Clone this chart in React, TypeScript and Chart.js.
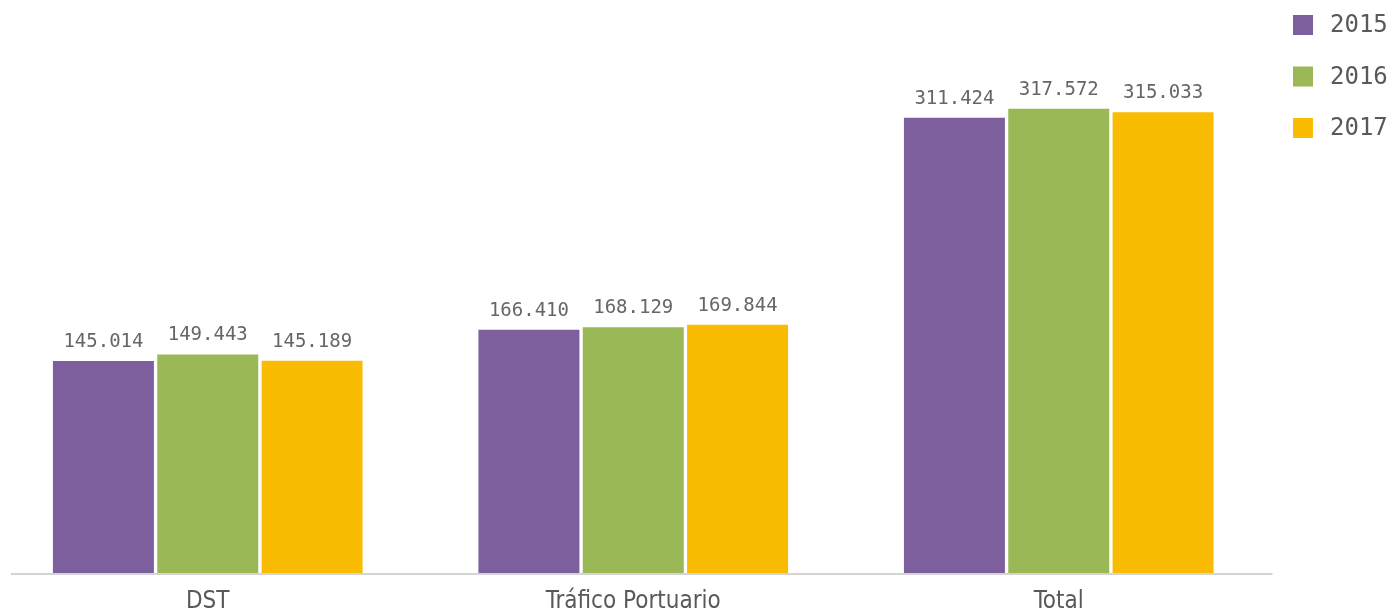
import React, { useEffect, useRef } from "react";
import { Chart, registerables } from "chart.js";

Chart.register(...registerables);

const categories = ["DST", "Tráfico Portuario", "Total"];
const seriesNames = ["2015", "2016", "2017"];
const values2015 = [145.014, 166.41, 311.424];
const values2016 = [149.443, 168.129, 317.572];
const values2017 = [145.189, 169.844, 315.033];
const colors = ["#7E5F9E", "#9AB855", "#F9BC02"];

const W = 1398;
const H = 632;

export default function App() {
  const ref = useRef<HTMLCanvasElement | null>(null);

  useEffect(() => {
    const canvas = ref.current;
    if (!canvas) return;

    const extras = {
      id: "extras",
      afterDraw(chart: any) {
        const ctx = chart.ctx;
        const area = chart.chartArea;
        const yScale = chart.scales.y;
        const y0 = yScale.getPixelForValue(0);
        ctx.save();
        // axis line
        ctx.strokeStyle = "#d4d4d4";
        ctx.lineWidth = 2;
        ctx.beginPath();
        ctx.moveTo(16, y0 + 1);
        ctx.lineTo(area.right + 1, y0 + 1);
        ctx.stroke();
        // value labels
        ctx.fillStyle = "#666666";
        ctx.font = "19px 'DejaVu Sans Mono', monospace";
        ctx.textAlign = "center";
        ctx.textBaseline = "alphabetic";
        chart.data.datasets.forEach((ds: any, di: number) => {
          const meta = chart.getDatasetMeta(di);
          meta.data.forEach((bar: any, i: number) => {
            const v = ds.data[i] as number;
            ctx.fillText(v.toFixed(3), bar.x, bar.y - 14);
          });
        });
        // legend
        ctx.font = "24px 'DejaVu Sans Mono', monospace";
        ctx.textAlign = "left";
        ctx.textBaseline = "middle";
        seriesNames.forEach((name, i) => {
          const top = 15 + i * 51.5;
          ctx.fillStyle = colors[i];
          ctx.fillRect(1298, top, 20, 20);
          ctx.fillStyle = "#595959";
          ctx.fillText(name, 1335, top + 11);
        });
        ctx.restore();
      },
    };

    const chart = new Chart(canvas, {
      type: "bar",
      data: {
        labels: categories,
        datasets: [
          { label: seriesNames[0], data: values2015, backgroundColor: colors[0] },
          { label: seriesNames[1], data: values2016, backgroundColor: colors[1] },
          { label: seriesNames[2], data: values2017, backgroundColor: colors[2] },
        ],
      },
      options: {
        responsive: false,
        animation: false,
        devicePixelRatio: 1,
        layout: { padding: { left: 0, right: 121.5, top: 46.6, bottom: 1 } },
        datasets: {
          bar: { categoryPercentage: 0.7356, barPercentage: 0.968 },
        },
        plugins: {
          legend: { display: false },
          tooltip: { enabled: false },
        },
        scales: {
          x: {
            grid: { display: false, drawTicks: false },
            border: { display: false },
            ticks: {
              padding: 17,
              color: "#595959",
              font: {
                family: "'Liberation Sans Narrow', 'DejaVu Sans Condensed', 'Roboto Condensed', 'Liberation Sans', sans-serif",
                size: 24,
                lineHeight: 1,
              },
            },
          },
          y: {
            display: false,
            min: 0,
            max: 360,
          },
        },
      },
      plugins: [extras],
    });
    return () => chart.destroy();
  }, []);

  return (
    <canvas
      ref={ref}
      width={W}
      height={H}
      style={{ position: "fixed", left: -5, top: 0, width: W, height: H, display: "block" }}
    />
  );
}
